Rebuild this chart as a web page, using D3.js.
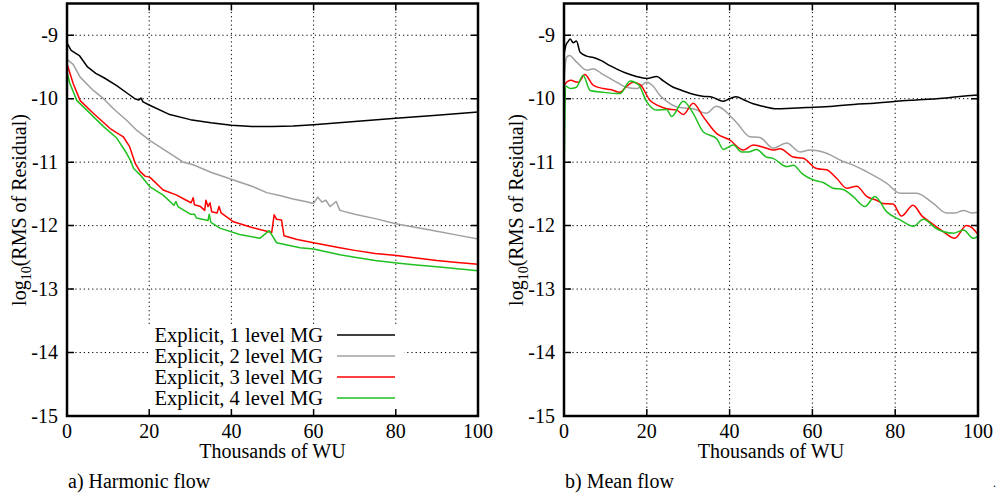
<!DOCTYPE html>
<html>
<head>
<meta charset="utf-8">
<script src="https://cdn.jsdelivr.net/npm/d3@7"></script>
<style>
  body { margin: 0; background: #fff; }
  text { font-family: "Liberation Serif", "DejaVu Serif", serif; fill: #000; }
</style>
</head>
<body>
<script>
// canvas
var w = 998;
var h = 496;

// data: [thousands of WU, log10 RMS]
var xTicks = [0, 20, 40, 60, 80, 100];
var yTicks = [-9, -10, -11, -12, -13, -14, -15];
var seriesNames = ["Explicit, 1 level MG", "Explicit, 2 level MG", "Explicit, 3 level MG", "Explicit, 4 level MG"];
var seriesColors = ["#000000", "#a0a0a0", "#ff0000", "#20c020"];

var harmonic1 = [[0,-9.12],[1,-9.24],[3,-9.32],[5,-9.5],[7,-9.6],[9,-9.67],[12,-9.79],[15,-9.93],[16.5,-10.0],[17.5,-10.02],[18,-9.99],[18.5,-10.05],[20,-10.1],[25,-10.25],[30,-10.33],[35,-10.38],[40,-10.42],[45,-10.44],[50,-10.44],[55,-10.43],[60,-10.41],[70,-10.36],[80,-10.31],[90,-10.26],[100,-10.21]];
var harmonic2 = [[0,-9.38],[1.5,-9.46],[3.2,-9.66],[6.4,-9.87],[8.9,-10.0],[11.5,-10.17],[14.5,-10.34],[17,-10.5],[20.2,-10.66],[25,-10.86],[28.3,-11.0],[30.7,-11.04],[35,-11.16],[40.5,-11.28],[45,-11.38],[48.6,-11.48],[52,-11.53],[55,-11.58],[58,-11.62],[60,-11.65],[61,-11.55],[62,-11.63],[63,-11.6],[64,-11.7],[65.5,-11.62],[66.4,-11.76],[70,-11.82],[75,-11.89],[80,-11.97],[85,-12.03],[90,-12.09],[95,-12.15],[100,-12.21]];
var harmonic3 = [[0,-9.45],[1.5,-9.76],[3.2,-10.03],[6.4,-10.23],[10.5,-10.47],[13.7,-10.6],[15.2,-10.75],[16.6,-11.02],[17.8,-11.15],[19,-11.22],[20.2,-11.24],[23.4,-11.44],[26.7,-11.52],[29,-11.6],[30.2,-11.64],[30.7,-11.56],[31,-11.67],[32.5,-11.7],[33.5,-11.76],[33.8,-11.6],[34.3,-11.7],[34.8,-11.64],[35.2,-11.78],[36.5,-11.8],[37,-11.7],[37.5,-11.8],[40.5,-11.94],[45,-12.03],[48.6,-12.09],[49.8,-12.11],[50.4,-11.83],[51,-11.9],[52.2,-11.91],[52.8,-12.16],[56,-12.22],[60,-12.27],[66.4,-12.35],[70,-12.39],[75,-12.44],[80.2,-12.47],[85,-12.51],[90,-12.55],[95,-12.58],[100,-12.61]];
var harmonic4 = [[0,-9.58],[0.7,-9.76],[2.4,-10.03],[4.8,-10.18],[8.9,-10.44],[12.1,-10.62],[14.5,-10.86],[15.5,-10.98],[16.2,-11.1],[17.8,-11.2],[20.2,-11.39],[23.4,-11.52],[26,-11.68],[26.5,-11.62],[27,-11.7],[30,-11.82],[31,-11.82],[31.5,-11.88],[34.3,-11.92],[34.6,-11.82],[35,-11.95],[37.2,-12.04],[42,-12.14],[46.9,-12.2],[49.2,-12.08],[51,-12.27],[56.7,-12.35],[60,-12.37],[66.4,-12.46],[70,-12.5],[75,-12.55],[80.2,-12.59],[85,-12.62],[90,-12.65],[95,-12.68],[100,-12.71]];

var mean1 = [[0,-9.3],[0.5,-9.15],[1,-9.1],[1.5,-9.06],[2.2,-9.12],[3,-9.09],[3.9,-9.27],[5.5,-9.33],[7.1,-9.35],[9,-9.4],[11.1,-9.48],[13,-9.54],[15.1,-9.6],[17.5,-9.65],[20,-9.68],[22.4,-9.65],[24,-9.72],[26.4,-9.82],[28.5,-9.87],[31.2,-9.93],[33.5,-9.96],[36,-9.98],[38.4,-10.04],[40,-10.0],[41.6,-9.97],[43.5,-10.02],[45.7,-10.08],[48,-10.12],[51.4,-10.16],[55,-10.15],[58.6,-10.14],[65,-10.12],[70,-10.09],[75,-10.07],[80.3,-10.04],[85,-10.02],[90,-10.0],[95,-9.97],[100,-9.94]];
var mean2 = [[0,-9.7],[0.6,-9.35],[1.3,-9.32],[3,-9.42],[5.5,-9.55],[7.1,-9.53],[9,-9.6],[11.1,-9.68],[13,-9.75],[15.1,-9.82],[17.6,-9.84],[20,-9.74],[21.5,-9.8],[23.2,-9.95],[25,-10.05],[27.2,-10.13],[31.2,-10.16],[34.4,-10.23],[36.8,-10.12],[38.5,-10.17],[40,-10.26],[42,-10.4],[44.9,-10.6],[47.3,-10.61],[50.5,-10.78],[53.8,-10.7],[57,-10.84],[59.4,-10.81],[63.4,-10.86],[67.4,-10.99],[70,-11.05],[73.1,-11.15],[77.9,-11.33],[81.2,-11.49],[85.2,-11.49],[89.2,-11.65],[92.4,-11.8],[94.5,-11.8],[96.5,-11.76],[98.5,-11.8],[100,-11.79]];
var mean3 = [[0,-9.8],[0.8,-9.73],[1.8,-9.71],[2.5,-9.73],[3.5,-9.74],[5,-9.62],[7.1,-9.79],[9.5,-9.84],[11.5,-9.86],[13.5,-9.9],[15.2,-9.8],[16.7,-9.74],[18.4,-9.78],[20.8,-10.03],[22.8,-10.11],[24.8,-10.16],[27.2,-10.18],[28.8,-10.25],[31.2,-10.07],[33.7,-10.29],[36.9,-10.55],[40,-10.65],[43.3,-10.81],[45.7,-10.73],[48.9,-10.78],[50.5,-10.81],[52.2,-10.79],[55.4,-10.92],[57.8,-10.94],[61,-11.1],[63.4,-11.12],[65.8,-11.25],[68.3,-11.41],[70.7,-11.38],[73.1,-11.54],[75.5,-11.6],[77.1,-11.65],[79.5,-11.66],[81.5,-11.85],[84.3,-11.68],[86.5,-11.85],[88.3,-11.94],[91.5,-12.09],[94.4,-12.2],[97.2,-12.0],[98.5,-12.03],[100,-12.14]];
var mean4 = [[0,-11.45],[0.4,-9.8],[1.5,-9.84],[3,-9.82],[4.6,-9.63],[6.3,-9.87],[9.5,-9.9],[13.5,-9.92],[16,-9.72],[18,-9.78],[20,-10.05],[22.4,-10.18],[24.8,-10.17],[26,-10.28],[28.8,-10.04],[31.2,-10.23],[33.6,-10.52],[36.9,-10.63],[38.5,-10.8],[40.9,-10.73],[42.9,-10.84],[44.5,-10.84],[46.5,-10.8],[48.9,-10.92],[50.5,-10.94],[53.8,-11.07],[55.4,-11.05],[57.5,-11.18],[60.2,-11.28],[62.6,-11.32],[65,-11.41],[67.4,-11.43],[69.8,-11.54],[72.7,-11.7],[75.1,-11.54],[77.9,-11.78],[81.2,-11.91],[84.4,-12.01],[86.8,-11.9],[90,-12.05],[94,-12.12],[96.5,-12.07],[98.9,-12.2],[100,-12.17]];

var harmonicSeries = [harmonic1, harmonic2, harmonic3, harmonic4];
var meanSeries = [mean1, mean2, mean3, mean4];

var svg = d3.select("body").append("svg")
    .attr("width", w)
    .attr("height", h);

function drawPanel(opts) {
  var x = d3.scaleLinear().domain([0, 100]).range([opts.left, opts.right]);
  var y = d3.scaleLinear().domain([-15, -8.5]).range([416, 3.5]);
  var g = svg.append("g");

  // dotted grid
  g.selectAll(".gx").data(xTicks.slice(1, -1)).enter().append("line")
    .attr("x1", function(d) { return x(d); }).attr("x2", function(d) { return x(d); })
    .attr("y1", y(-8.5)).attr("y2", y(-15))
    .attr("stroke", "#000").attr("stroke-width", 1).attr("stroke-dasharray", "1.2,3");
  g.selectAll(".gy").data(yTicks.slice(0, -1)).enter().append("line")
    .attr("x1", x(0)).attr("x2", x(100))
    .attr("y1", function(d) { return y(d); }).attr("y2", function(d) { return y(d); })
    .attr("stroke", "#000").attr("stroke-width", 1).attr("stroke-dasharray", "1.2,3");

  // opaque key box hides the grid behind the legend
  if (opts.box) {
    g.append("rect")
      .attr("x", opts.box[0]).attr("y", opts.box[1])
      .attr("width", opts.box[2]).attr("height", opts.box[3])
      .attr("fill", "#fff");
  }

  // ticks, inner, on all four sides
  var tl = 7;
  g.selectAll(".tb").data(xTicks).enter().append("path")
    .attr("d", function(d) { return "M" + x(d) + "," + y(-15) + "v" + (-tl) + "M" + x(d) + "," + y(-8.5) + "v" + tl; })
    .attr("stroke", "#000").attr("stroke-width", 1.5);
  g.selectAll(".tl").data(yTicks).enter().append("path")
    .attr("d", function(d) { return "M" + x(0) + "," + y(d) + "h" + tl + "M" + x(100) + "," + y(d) + "h" + (-tl); })
    .attr("stroke", "#000").attr("stroke-width", 1.5);

  // lines
  var line = d3.line()
    .x(function(d) { return x(d[0]); })
    .y(function(d) { return y(d[1]); })
    .curve(opts.curve);
  opts.series.forEach(function(s, i) {
    g.append("path")
      .datum(s)
      .attr("d", line)
      .attr("fill", "none")
      .attr("stroke", seriesColors[i])
      .attr("stroke-width", 1.5)
      .attr("stroke-linejoin", "round");
  });

  // frame
  g.append("rect")
    .attr("x", x(0)).attr("y", y(-8.5))
    .attr("width", x(100) - x(0)).attr("height", y(-15) - y(-8.5))
    .attr("fill", "none").attr("stroke", "#000").attr("stroke-width", 2.5);

  // tick labels
  g.selectAll(".yl").data(yTicks).enter().append("text")
    .attr("x", x(0) - 9).attr("y", function(d) { return y(d) + 6.5; })
    .attr("text-anchor", "end").attr("font-size", 20)
    .text(function(d) { return d; });
  g.selectAll(".xl").data(xTicks).enter().append("text")
    .attr("x", function(d) { return x(d); }).attr("y", 438)
    .attr("text-anchor", "middle").attr("font-size", 20)
    .text(function(d) { return d; });

  // axis titles
  g.append("text")
    .attr("x", (x(0) + x(100)) / 2).attr("y", 458)
    .attr("text-anchor", "middle").attr("font-size", 20)
    .text("Thousands of WU");
  var yt = g.append("text")
    .attr("transform", "translate(" + (opts.left - 41) + "," + 210 + ") rotate(-90)")
    .attr("text-anchor", "middle").attr("font-size", 20);
  yt.append("tspan").text("log");
  yt.append("tspan").attr("font-size", 14).attr("dy", 5).text("10");
  yt.append("tspan").attr("dy", -5).text("(RMS of Residual)");

  // caption
  g.append("text")
    .attr("x", opts.left + 1).attr("y", 488)
    .attr("font-size", 20)
    .text(opts.caption);

  return { x: x, y: y, g: g };
}

var left = drawPanel({ left: 67, right: 478, series: harmonicSeries, curve: d3.curveLinear, caption: "a) Harmonic flow", box: [148, 325, 256, 89] });
drawPanel({ left: 564, right: 978, series: meanSeries, curve: d3.curveMonotoneX, caption: "b) Mean flow" });

// legend inside left panel
var legend = left.g.selectAll(".leg").data(seriesNames).enter().append("g")
  .attr("transform", function(d, i) { return "translate(0," + (335 + i * 21) + ")"; });
legend.append("text")
  .attr("x", 323).attr("y", 6.5)
  .attr("text-anchor", "end").attr("font-size", 20.5)
  .text(function(d) { return d; });
legend.append("line")
  .attr("x1", 337).attr("x2", 395)
  .attr("stroke", function(d, i) { return seriesColors[i]; })
  .attr("stroke-width", 1.5);

// stray dot in the bottom right corner
svg.append("text").attr("x", 993).attr("y", 487).attr("font-size", 12).text(".");
</script>
</body>
</html>
